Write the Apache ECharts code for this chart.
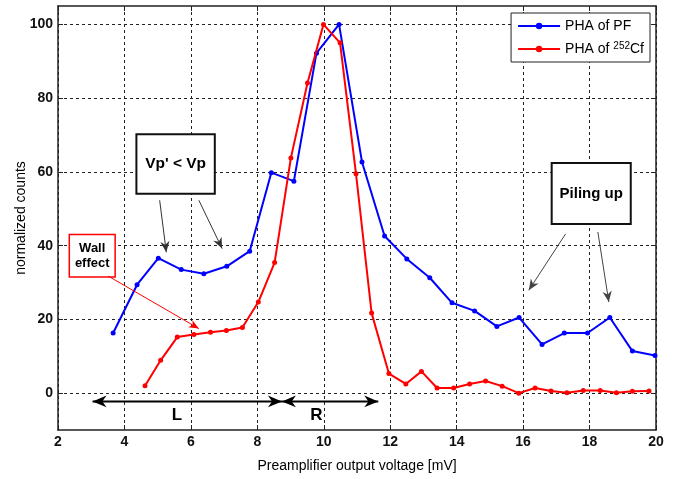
<!DOCTYPE html>
<html>
<head>
<meta charset="utf-8">
<script src="https://cdn.jsdelivr.net/npm/echarts@6/dist/echarts.min.js"></script>
<style>
  html, body { margin: 0; padding: 0; background: #fff; }
  #phaChart { width: 673px; height: 479px; }
</style>
</head>
<body>
<div id="phaChart"></div>
<script>
  // PHA of PF
  const pfVolt = [3.66, 4.38, 5.02, 5.71, 6.39, 7.08, 7.77, 8.42, 9.10, 9.78, 10.46, 11.15, 11.83,
    12.50, 13.19, 13.86, 14.54, 15.21, 15.88, 16.57, 17.24, 17.94, 18.61, 19.29, 19.97];
  const pfCounts = [16.3, 29.4, 36.6, 33.5, 32.4, 34.4, 38.5, 59.8, 57.5, 92.2, 100, 62.7, 42.6,
    36.4, 31.3, 24.5, 22.3, 18.1, 20.5, 13.2, 16.3, 16.3, 20.5, 11.4, 10.2];

  // PHA of 252Cf
  const cfVolt = [4.62, 5.09, 5.59, 6.09, 6.59, 7.07, 7.55, 8.03, 8.52, 9.01, 9.51, 9.99, 10.49,
    10.97, 11.44, 11.96, 12.47, 12.94, 13.41, 13.91, 14.39, 14.87, 15.37, 15.87, 16.36, 16.84,
    17.32, 17.81, 18.32, 18.81, 19.29, 19.79];
  const cfCounts = [2.0, 8.9, 15.2, 15.9, 16.5, 17.0, 17.8, 24.7, 35.4, 63.8, 84.1, 100, 95.0,
    59.5, 21.7, 5.3, 2.5, 5.9, 1.4, 1.4, 2.5, 3.3, 1.9, 0, 1.4, 0.6, 0.1, 0.7, 0.7, 0.1, 0.5, 0.6];

  const yTicks = [0, 20, 40, 60, 80, 100];
  const seriesNames = ['PHA of PF', 'PHA of 252Cf'];

  const chart = echarts.init(document.getElementById('phaChart'));
  const font = 'Arial, "Liberation Sans", sans-serif';

  const gridLine = { show: true, lineStyle: { color: '#222', type: [3, 3], width: 1 } };
  const boxLine = { show: true, onZero: false, lineStyle: { color: '#222', width: 1.5 } };
  const tick = { show: true, inside: true, length: 5, lineStyle: { color: '#222' } };

  const option = {
    animation: false,
    backgroundColor: '#fff',
    grid: { left: 58, right: 17, top: 6, bottom: 49, outerBoundsMode: 'none' },
    legend: {
      orient: 'vertical',
      right: 23,
      top: 13,
      padding: [6, 6, 5, 6],
      itemGap: 8,
      itemWidth: 42,
      itemHeight: 8,
      backgroundColor: '#fff',
      borderColor: '#222',
      borderWidth: 1,
      borderRadius: 0,
      data: seriesNames,
      formatter: function (name) {
        if (name === 'PHA of 252Cf') return '{n|PHA of }{s|252}{n|Cf}';
        return '{n|' + name + '}';
      },
      textStyle: {
        fontFamily: font,
        rich: {
          n: { fontSize: 14, color: '#000', fontFamily: font, lineHeight: 16 },
          s: { fontSize: 10, color: '#000', fontFamily: font, verticalAlign: 'top', lineHeight: 16, padding: [0, 0, 6, 0] }
        }
      }
    },
    xAxis: [{
      type: 'value',
      min: 2, max: 20, interval: 2,
      name: 'Preamplifier output voltage [mV]',
      nameLocation: 'middle',
      nameGap: 29,
      nameMoveOverlap: false,
      nameTextStyle: { fontFamily: font, fontSize: 14, color: '#000' },
      axisLine: boxLine,
      axisTick: tick,
      axisLabel: { fontFamily: font, fontSize: 14, fontWeight: 'bold', color: '#111', margin: 5 },
      splitLine: gridLine
    }, {
      type: 'value',
      position: 'top',
      min: 2, max: 20, interval: 2,
      axisLine: boxLine,
      axisTick: tick,
      axisLabel: { show: false },
      splitLine: { show: false }
    }],
    yAxis: [{
      type: 'value',
      min: -10, max: 105,
      name: 'normalized counts',
      nameLocation: 'middle',
      nameGap: 30,
      nameMoveOverlap: false,
      nameTextStyle: { fontFamily: font, fontSize: 14, color: '#000' },
      axisLine: boxLine,
      axisTick: Object.assign({ customValues: yTicks }, tick),
      axisLabel: { fontFamily: font, fontSize: 14, fontWeight: 'bold', color: '#111', margin: 5, customValues: yTicks },
      splitLine: gridLine
    }, {
      type: 'value',
      position: 'right',
      min: -10, max: 105,
      axisLine: boxLine,
      axisTick: Object.assign({ customValues: yTicks }, tick),
      axisLabel: { show: false, customValues: yTicks },
      splitLine: { show: false }
    }],
    series: [{
      name: seriesNames[0],
      type: 'line',
      data: pfVolt.map((v, i) => [v, pfCounts[i]]),
      color: '#0000ff',
      symbol: 'circle',
      symbolSize: 5,
      showSymbol: true,
      lineStyle: { width: 2, color: '#0000ff' },
      itemStyle: { color: '#0000ff' },
      z: 3
    }, {
      name: seriesNames[1],
      type: 'line',
      data: cfVolt.map((v, i) => [v, cfCounts[i]]),
      color: '#ff0000',
      symbol: 'circle',
      symbolSize: 5,
      showSymbol: true,
      lineStyle: { width: 2, color: '#ff0000' },
      itemStyle: { color: '#ff0000' },
      z: 4
    }]
  };

  chart.setOption(option);

  // annotations, placed in data units
  const boxes = [
    { x0: 4.36, y0: 70.2, x1: 6.72, y1: 54.1, text: "Vp' < Vp", size: 15.5, border: '#111', bw: 2 },
    { x0: 16.86, y0: 62.4, x1: 19.24, y1: 45.9, text: 'Piling up', size: 15, border: '#111', bw: 2 },
    { x0: 2.34, y0: 43.0, x1: 3.72, y1: 31.5, text: 'Wall\neffect', size: 13, border: '#ff0000', bw: 1.5 }
  ];
  const arrows = [
    { from: [5.06, 52.3], to: [5.26, 38.2], color: '#333', width: 1, head: 11, both: false },
    { from: [6.24, 52.3], to: [6.94, 39.2], color: '#333', width: 1, head: 11, both: false },
    { from: [17.28, 43.2], to: [16.17, 27.9], color: '#444', width: 1, head: 11, both: false },
    { from: [18.25, 43.7], to: [18.58, 24.7], color: '#444', width: 1, head: 11, both: false },
    { from: [3.52, 31.7], to: [6.24, 17.5], color: '#ff0000', width: 1, head: 10, both: false },
    { from: [3.04, -2.25], to: [8.74, -2.25], color: '#000', width: 2, head: 14, both: true },
    { from: [8.74, -2.25], to: [11.64, -2.25], color: '#000', width: 2, head: 14, both: true }
  ];
  const labels = [
    { at: [5.58, -6.0], text: 'L' },
    { at: [9.78, -6.0], text: 'R' }
  ];

  function toPx(p) {
    return chart.convertToPixel({ gridIndex: 0 }, p);
  }

  function arrowHead(tip, tail, len, color) {
    const dx = tip[0] - tail[0], dy = tip[1] - tail[1];
    const d = Math.sqrt(dx * dx + dy * dy) || 1;
    const ux = dx / d, uy = dy / d;
    const px = -uy, py = ux;
    const w = len * 0.42;
    const back = [tip[0] - ux * len, tip[1] - uy * len];
    const notch = [tip[0] - ux * len * 0.7, tip[1] - uy * len * 0.7];
    return {
      type: 'polygon',
      shape: { points: [tip, [back[0] + px * w, back[1] + py * w], notch, [back[0] - px * w, back[1] - py * w]] },
      style: { fill: color },
      z: 20
    };
  }

  function buildGraphics() {
    const els = [];
    boxes.forEach(b => {
      const p0 = toPx([b.x0, b.y0]);
      const p1 = toPx([b.x1, b.y1]);
      els.push({
        type: 'rect',
        shape: { x: p0[0], y: p0[1], width: p1[0] - p0[0], height: p1[1] - p0[1] },
        style: { fill: '#fff', stroke: b.border, lineWidth: b.bw },
        z: 15
      });
      els.push({
        type: 'text',
        x: (p0[0] + p1[0]) / 2,
        y: (p0[1] + p1[1]) / 2,
        style: {
          text: b.text, fill: '#000', font: 'bold ' + b.size + 'px ' + font,
          align: 'center', verticalAlign: 'middle', lineHeight: b.size + 2
        },
        z: 16
      });
    });
    arrows.forEach(a => {
      const s = toPx(a.from), e = toPx(a.to);
      els.push({
        type: 'line',
        shape: { x1: s[0], y1: s[1], x2: e[0], y2: e[1] },
        style: { stroke: a.color, lineWidth: a.width },
        z: 19
      });
      els.push(arrowHead(e, s, a.head, a.color));
      if (a.both) els.push(arrowHead(s, e, a.head, a.color));
    });
    labels.forEach(l => {
      const p = toPx(l.at);
      els.push({
        type: 'text', x: p[0], y: p[1],
        style: { text: l.text, fill: '#000', font: 'bold 17px ' + font, align: 'center', verticalAlign: 'middle' },
        z: 20
      });
    });
    return els;
  }

  chart.setOption({ graphic: buildGraphics() });
</script>
</body>
</html>
